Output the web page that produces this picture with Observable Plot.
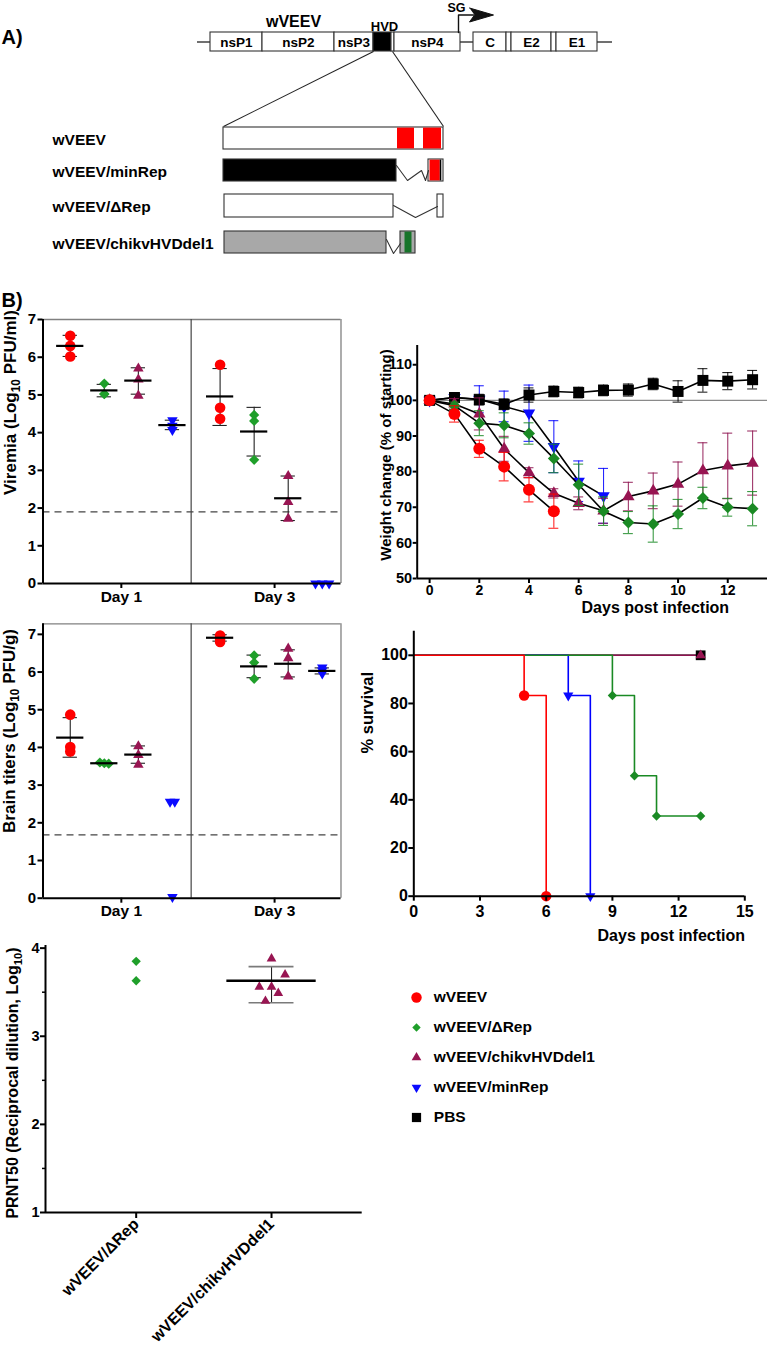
<!DOCTYPE html>
<html><head><meta charset="utf-8">
<script src="https://cdn.jsdelivr.net/npm/d3@7"></script>
<script src="https://cdn.jsdelivr.net/npm/@observablehq/plot@0.6"></script>
<style>
html,body{margin:0;padding:0;background:#fff;}
#fig{position:relative;width:767px;height:1346px;overflow:hidden;background:#fff;}
#fig svg{position:absolute;overflow:visible;max-width:none;}
</style></head>
<body><div id="fig"></div>
<script>
// ================= DATA =================
const groups = ["wVEEV", "wVEEV/ΔRep", "wVEEV/chikvHVDdel1", "wVEEV/minRep", "PBS"];
const groupColors = ["#ff0000", "#1f9f2a", "#981552", "#0a0aff", "#000000"];
const lineColors = ["#ff0000", "#1a8a24", "#8e1450", "#0000ff", "#000000"];
const days = ["Day 1", "Day 3"];

// Panel A schematic (map units)
const genomeLabels = ["nsP1", "nsP2", "nsP3", "", "", "nsP4", "C", "", "E2", "", "E1"];
const genomeStart  = [210, 262, 334, 373, 391, 394, 473, 506, 511, 551, 556];
const genomeEnd    = [262, 334, 373, 391, 394, 460, 506, 511, 551, 556, 597];
const genomeFill   = ["white", "white", "white", "black", "white", "white", "white", "white", "white", "white", "white"];
const genomeLinkStart = [197, 460, 597];
const genomeLinkEnd   = [210, 473, 612];
const constructNames = ["wVEEV", "wVEEV/minRep", "wVEEV/ΔRep", "wVEEV/chikvHVDdel1"];
const rowTop    = [127, 159, 194, 231];
const rowBottom = [149, 181, 217, 253];
const blockStart = [223, 223, 224, 224];
const blockEnd   = [443, 396, 393, 386];
const blockFill  = ["white", "black", "white", "#a8a8a8"];
const tailRow   = [1, 2, 3];
const tailStart = [428, 437, 400];
const tailEnd   = [443, 443, 415];
const tailFill  = ["white", "white", "#a8a8a8"];
const insertRow   = [0, 0, 1, 1, 3];
const insertStart = [397, 423, 429.5, 439.8, 404.5];
const insertEnd   = [414, 441, 439.8, 441.3, 411.5];
const insertFill  = ["#ff0000", "#ff0000", "#ff0000", "black", "#17742a"];
const zigRow = [1, 1, 1, 1, 1, 2, 2, 2, 3, 3, 3];
const zigX   = [396, 407, 421, 425, 428, 393, 415, 437, 386, 393, 400];
const zigY   = [165, 180, 170, 180, 170, 205, 217, 206, 239, 253, 243];
const zoomFromX = [373, 392], zoomToX = [223, 443];
const sgStemX = [458, 458, 473], sgStemY = [32, 14.5, 14.5];
const sgHeadX = [469, 493, 469, 474], sgHeadY = [7.5, 14.5, 21.5, 14.5];
const schemeTitles = ["wVEEV", "HVD", "SG"];
const schemeTitleX = [293, 384, 456];
const schemeTitleY = [21, 26, 7];

// Viremia (Log10 PFU/ml); group order wVEEV, ΔRep, chikvHVDdel1, minRep
const viremiaDay1 = [[6.57, 6.30, 6.02], [5.30, 5.03, 5.02], [5.70, 5.41, 4.98], [4.33, 4.18, 4.07]];
const viremiaDay3 = [[5.80, 4.66, 4.37], [4.47, 4.31, 3.28], [2.85, 2.16, 1.72], [0, 0, 0]];
const viremiaJitterDay3 = [[0, 0, 0], [0, 0, 0], [0, 0, 0], [-0.2, 0, 0.2]];
const viremiaMean = [[6.30, 5.12, 5.38, 4.20], [4.96, 4.03, 2.26, null]];
const viremiaLow  = [[6.02, 4.95, 5.02, 4.08], [4.19, 3.38, 1.67, null]];
const viremiaHigh = [[6.58, 5.28, 5.72, 4.33], [5.70, 4.67, 2.85, null]];
const viremiaLimit = 1.9;

// Brain titers (Log10 PFU/g)
const brainDay1 = [[4.87, 4.01, 3.89], [3.60, 3.57, 3.58], [4.03, 3.80, 3.54], [2.56, 2.56, 0.03]];
const brainDay3 = [[6.97, 6.88, 6.80], [6.44, 6.25, 5.82], [6.62, 6.37, 5.88], [6.12, 6.04, 5.96]];
const brainJitterDay1 = [[0, 0, 0], [-0.13, 0.13, 0], [0, 0, 0], [-0.07, 0.07, 0]];
const brainMean = [[4.26, 3.58, 3.81, null], [6.91, 6.15, 6.22, 6.03]];
const brainLow  = [[3.74, 3.56, 3.58, null], [6.82, 5.85, 5.87, 5.95]];
const brainHigh = [[4.79, 3.60, 4.04, null], [6.99, 6.45, 6.59, 6.11]];
const brainLimit = 1.68;

// Weight change (% of starting)
const weightDays = [0, 1, 2, 3, 4, 5, 6, 7, 8, 9, 10, 11, 12, 13];
const weightWVEEV      = [100, 96.2, 86.4, 81.4, 74.9, 68.9];
const weightErrWVEEV   = [0.5, 2.3, 2.4, 4.0, 3.4, 4.8];
const weightDeltaRep    = [100, 98.5, 93.6, 93.0, 90.7, 83.7, 76.3, 68.9, 65.7, 65.3, 68.1, 72.6, 70.0, 69.6];
const weightErrDeltaRep = [0.5, 1.0, 3.5, 3.5, 3.0, 4.0, 5.8, 4.0, 3.1, 5.1, 4.1, 3.0, 2.5, 4.8];
const weightChikv       = [100, 99.0, 96.2, 86.4, 79.7, 73.9, 71.1, 69.0, 73.0, 74.6, 76.5, 80.3, 81.6, 82.4];
const weightErrChikv    = [0.5, 1.5, 4.5, 3.5, 1.4, 1.3, 1.8, 3.5, 4.0, 5.0, 6.2, 7.8, 9.2, 9.0];
const weightMinRep      = [100, 100.8, 100.3, 98.3, 96.4, 87.0, 77.3, 73.2];
const weightErrMinRep   = [0.5, 1.0, 3.8, 4.3, 7.9, 7.3, 5.7, 7.7];
const weightPBS         = [100, 100.8, 100.2, 98.9, 101.5, 102.5, 102.2, 102.8, 102.9, 104.6, 102.5, 105.6, 105.4, 105.8];
const weightErrPBS      = [0.5, 1.0, 1.5, 1.5, 2.0, 1.5, 1.5, 1.5, 1.7, 1.6, 3.0, 3.3, 2.4, 2.6];

// Survival (%)
const survDaysWVEEV = [0, 5, 6],               survPctWVEEV = [100, 83.3, 0];
const survDaysDeltaRep = [0, 9, 10, 11, 13],   survPctDeltaRep = [100, 83.3, 50, 33.3, 33.3];
const survDaysChikv = [0, 13],                 survPctChikv = [100, 100];
const survDaysMinRep = [0, 7, 8],              survPctMinRep = [100, 83.3, 0];
const survDaysPBS = [0, 13],                   survPctPBS = [100, 100];

// PRNT50
const prntGroups = ["wVEEV/ΔRep", "wVEEV/chikvHVDdel1"];
const prntDeltaRep = [3.85, 3.63];
const prntDeltaRepJitter = [0, 0];
const prntChikv = [3.88, 3.70, 3.56, 3.56, 3.49, 3.40];
const prntChikvJitter = [0, 0.1, -0.09, 0, 0.05, -0.045];
const prntMean = [null, 3.63], prntLow = [null, 3.38], prntHigh = [null, 3.79];

// ================= HELPERS =================
const FONT = '"Liberation Sans", Arial, Helvetica, sans-serif';
const fig = document.getElementById("fig");
const intFmt = (d) => String(d);
function place(svg, left, top) {
  svg.style.left = left + "px";
  svg.style.top = top + "px";
  fig.appendChild(svg);
  subscriptify(svg);
  return svg;
}
function baseStyle(size) {
  return {fontFamily: FONT, fontSize: size + "px", fontWeight: "bold", background: "transparent", overflow: "visible", color: "#000"};
}
function subscriptify(svg) {
  d3.select(svg).selectAll("text").each(function () {
    const t = this.textContent;
    if (t.includes("Log10") && this.childElementCount === 0) {
      const parts = t.split("Log10");
      const s = d3.select(this);
      s.text(null);
      s.append("tspan").text(parts[0] + "Log");
      s.append("tspan").attr("dy", 4).attr("font-size", "70%").text("10");
      s.append("tspan").attr("dy", -4).text(parts[1]);
    }
  });
}
const triDown = {draw(ctx, size) {
  const s3 = Math.sqrt(3), y = -Math.sqrt(size / (s3 * 3));
  ctx.moveTo(0, -y * 2); ctx.lineTo(-s3 * y, y); ctx.lineTo(s3 * y, y); ctx.closePath();
}};
const SYM = ["circle", "diamond2", "triangle", triDown, "square"];

// ================= PANEL A =================
{
  const gi = genomeStart.map((_, i) => i);
  const ri = constructNames.map((_, i) => i);
  const zig = zigX.map((x, i) => ({x, y: zigY[i], row: zigRow[i]}));
  const svg = Plot.plot({
    width: 767, height: 312, margin: 0,
    x: {domain: [0, 767], range: [0, 767], axis: null},
    y: {domain: [0, 312], range: [0, 312], axis: null},
    color: {type: "identity"},
    style: baseStyle(13),
    marks: [
      Plot.ruleY(genomeLinkStart, {y: () => 41.5, x1: (d) => d, x2: (d, i) => genomeLinkEnd[i], stroke: "#222", strokeWidth: 1.3}),
      Plot.rect(gi, {x1: (i) => genomeStart[i], x2: (i) => genomeEnd[i], y1: () => 32, y2: () => 51, fill: (i) => genomeFill[i], stroke: "#333", strokeWidth: 1.1}),
      Plot.text(gi.filter((i) => genomeLabels[i]), {x: (i) => (genomeStart[i] + genomeEnd[i]) / 2, y: () => 42, text: (i) => genomeLabels[i], fontSize: 13.5}),
      Plot.text([0], {x: () => schemeTitleX[0], y: () => schemeTitleY[0], text: () => schemeTitles[0], fontSize: 16}),
      Plot.text([1], {x: () => schemeTitleX[1], y: () => schemeTitleY[1], text: () => schemeTitles[1], fontSize: 13}),
      Plot.text([2], {x: () => schemeTitleX[2], y: () => schemeTitleY[2], text: () => schemeTitles[2], fontSize: 12.5}),
      Plot.line(sgStemX.map((x, i) => ({x, y: sgStemY[i]})), {x: "x", y: "y", stroke: "#111", strokeWidth: 1.4}),
      Plot.line(sgHeadX.map((x, i) => ({x, y: sgHeadY[i]})), {x: "x", y: "y", fill: "#111", stroke: "#111", strokeWidth: 1}),
      Plot.link(zoomFromX, {x1: (d) => d, y1: () => 51, x2: (d, i) => zoomToX[i], y2: () => 126, stroke: "#222", strokeWidth: 1.1}),
      Plot.rect(ri, {x1: (i) => blockStart[i], x2: (i) => blockEnd[i], y1: (i) => rowTop[i], y2: (i) => rowBottom[i], fill: (i) => blockFill[i], stroke: "#333", strokeWidth: 1.1}),
      Plot.rect(tailRow, {x1: (r, i) => tailStart[i], x2: (r, i) => tailEnd[i], y1: (r) => rowTop[r], y2: (r) => rowBottom[r], fill: (r, i) => tailFill[i], stroke: "#333", strokeWidth: 1.1}),
      Plot.rect(insertRow, {x1: (r, i) => insertStart[i], x2: (r, i) => insertEnd[i], y1: (r) => rowTop[r] + 0.6, y2: (r) => rowBottom[r] - 0.6, fill: (r, i) => insertFill[i]}),
      Plot.line(zig, {x: "x", y: "y", z: "row", stroke: "#333", strokeWidth: 1.1}),
      Plot.text(ri, {x: () => 52, y: (i) => (rowTop[i] + rowBottom[i]) / 2 + 1.5, text: (i) => constructNames[i], textAnchor: "start", fontSize: 15.5}),
      Plot.text(["A)", "B)"], {x: () => 1, y: (d, i) => [37.5, 300][i], text: (d) => d, textAnchor: "start", fontSize: 20})
    ]
  });
  place(svg, 0, 0);
}

// ================= SCATTER PANELS (viremia, brain) =================
const dayGap = 4.4, xMin = -0.8, xMax = 7.95, divider = 3.55;
const dayTicks = [1.5, 6.0];
function xSlot(d, g, j) { return d * dayGap + g + (j || 0); }
function dotRows(dayArrays, jitterByDay) {
  const rows = [];
  dayArrays.forEach((perGroup, d) => perGroup.forEach((vals, g) => vals.forEach((v, k) => {
    const j = jitterByDay[d] ? jitterByDay[d][g][k] : 0;
    rows.push({x: xSlot(d, g, j), y: v, g});
  })));
  return rows;
}
function statRows(mean, low, high) {
  const rows = [];
  mean.forEach((perGroup, d) => perGroup.forEach((m, g) => {
    if (m != null) rows.push({x: xSlot(d, g), mean: m, lo: low[d][g], hi: high[d][g]});
  }));
  return rows;
}
const scatterR = [5.3, 4.6, 3.9, 3.9];
function scatterPanel(o) {
  const dots = o.dots, stats = o.stats;
  return Plot.plot({
    width: 345, height: o.height, marginLeft: 42.5, marginRight: 4.5, marginTop: o.marginTop, marginBottom: o.marginBottom,
    x: {domain: [xMin, xMax]}, y: {domain: o.domainY},
    style: baseStyle(15),
    marks: [
      Plot.ruleY([o.domainY[1]], {stroke: "#808080", strokeWidth: 1.3}),
      Plot.ruleX([xMax], {stroke: "#808080", strokeWidth: 1.3}),
      Plot.ruleX([divider], {stroke: "#444", strokeWidth: 1.2}),
      Plot.ruleY([o.limit], {stroke: "#444", strokeDasharray: "7,5", strokeWidth: 1.1}),
      Plot.ruleX(stats, {x: "x", y1: "lo", y2: "hi", stroke: "#222", strokeWidth: 1.1}),
      Plot.ruleY(stats, {y: "lo", x1: (d) => d.x - 0.21, x2: (d) => d.x + 0.21, stroke: "#222", strokeWidth: 1.1}),
      Plot.ruleY(stats, {y: "hi", x1: (d) => d.x - 0.21, x2: (d) => d.x + 0.21, stroke: "#222", strokeWidth: 1.1}),
      ...[0, 1, 2, 3].map((g) => Plot.dot(dots.filter((r) => r.g === g), {x: "x", y: "y", symbol: SYM[g], fill: groupColors[g], r: scatterR[g]})),
      Plot.ruleY(stats, {y: "mean", x1: (d) => d.x - 0.4, x2: (d) => d.x + 0.4, stroke: "#000", strokeWidth: 2.2}),
      Plot.ruleX([xMin], {stroke: "#000", strokeWidth: 2}),
      Plot.ruleY([0], {stroke: "#000", strokeWidth: 2}),
      Plot.axisY({ticks: o.ticksY, tickFormat: intFmt, tickSize: 5, tickPadding: 2, strokeWidth: 2, label: null, fontSize: 15}),
      Plot.axisX({ticks: dayTicks, tickFormat: (d) => days[dayTicks.indexOf(d)], tickSize: 5, tickPadding: 2, strokeWidth: 2, label: null, fontSize: 15.5}),
      Plot.text([o.label], {frameAnchor: "left", textAnchor: "middle", rotate: -90, dx: o.labelDx, dy: o.labelDy, fontSize: 17})
    ]
  });
}
place(scatterPanel({
  dots: dotRows([viremiaDay1, viremiaDay3], [null, viremiaJitterDay3]),
  stats: statRows(viremiaMean, viremiaLow, viremiaHigh),
  domainY: [0, 7], ticksY: [0, 1, 2, 3, 4, 5, 6, 7], limit: viremiaLimit,
  height: 310, marginTop: 19, marginBottom: 27,
  label: "Viremia (Log10 PFU/ml)", labelDx: -32, labelDy: -49
}), 0, 300);
place(scatterPanel({
  dots: dotRows([brainDay1, brainDay3], [brainJitterDay1, null]),
  stats: statRows(brainMean, brainLow, brainHigh),
  domainY: [0, 7.28], ticksY: [0, 1, 2, 3, 4, 5, 6, 7], limit: brainLimit,
  height: 314.7, marginTop: 13.3, marginBottom: 27,
  label: "Brain titers (Log10 PFU/g)", labelDx: -33, labelDy: -30
}), 0, 610);

// ================= WEIGHT =================
{
  const series = [
    {g: 3, mean: weightMinRep, err: weightErrMinRep},
    {g: 4, mean: weightPBS, err: weightErrPBS},
    {g: 2, mean: weightChikv, err: weightErrChikv},
    {g: 1, mean: weightDeltaRep, err: weightErrDeltaRep},
    {g: 0, mean: weightWVEEV, err: weightErrWVEEV}
  ];
  const wR = [6, 5.4, 4.6, 4.6, 6.2];
  const marks = [
    Plot.ruleY([100], {x1: 0, x2: 13.6, stroke: "#8a8a8a", strokeWidth: 1.2})
  ];
  for (const s of series) {
    const rows = s.mean.map((m, i) => ({x: weightDays[i], y: m, lo: m - s.err[i], hi: m + s.err[i]}));
    marks.push(
      Plot.ruleX(rows, {x: "x", y1: "lo", y2: "hi", stroke: lineColors[s.g], strokeWidth: 1.1, strokeOpacity: 0.85}),
      Plot.ruleY(rows, {y: "lo", x1: (d) => d.x - 0.2, x2: (d) => d.x + 0.2, stroke: lineColors[s.g], strokeWidth: 1.1, strokeOpacity: 0.85}),
      Plot.ruleY(rows, {y: "hi", x1: (d) => d.x - 0.2, x2: (d) => d.x + 0.2, stroke: lineColors[s.g], strokeWidth: 1.1, strokeOpacity: 0.85}),
      Plot.line(rows, {x: "x", y: "y", stroke: "#000", strokeWidth: 1.6}),
      Plot.dot(rows, {x: "x", y: "y", symbol: SYM[s.g], fill: s.g === 1 ? lineColors[1] : groupColors[s.g], r: wR[s.g]})
    );
  }
  marks.push(
    Plot.ruleX([-0.5], {y1: 50, y2: 115.4, stroke: "#000", strokeWidth: 2}),
    Plot.ruleY([50], {stroke: "#000", strokeWidth: 2}),
    Plot.axisY({ticks: [50, 60, 70, 80, 90, 100, 110], tickFormat: intFmt, tickSize: 4, tickPadding: 1, strokeWidth: 2, label: null, fontSize: 14.5}),
    Plot.axisX({ticks: [0, 2, 4, 6, 8, 10, 12], tickFormat: intFmt, tickSize: 5, tickPadding: 2, strokeWidth: 2, label: null, fontSize: 14}),
    Plot.text(["Weight change (% of starting)"], {frameAnchor: "left", textAnchor: "middle", rotate: -90, dx: -31, dy: -7, fontSize: 15}),
    Plot.text(["Days post infection"], {frameAnchor: "bottom", textAnchor: "middle", dx: 63, dy: 34.5, fontSize: 16})
  );
  const svg = Plot.plot({
    width: 395, height: 290, marginLeft: 44.7, marginRight: 0, marginTop: 15, marginBottom: 42,
    x: {domain: [-0.5, 13.6]}, y: {domain: [50, 115.4]},
    style: baseStyle(14.5),
    marks
  });
  place(svg, 372, 330);
}

// ================= SURVIVAL =================
{
  const series = [
    {g: 4, d: survDaysPBS, p: survPctPBS},
    {g: 2, d: survDaysChikv, p: survPctChikv},
    {g: 3, d: survDaysMinRep, p: survPctMinRep},
    {g: 1, d: survDaysDeltaRep, p: survPctDeltaRep},
    {g: 0, d: survDaysWVEEV, p: survPctWVEEV}
  ];
  const sR = [5.2, 4.2, 3.8, 3.8, 5.5];
  const lines = [], dots = [];
  for (const s of series) {
    const rows = s.d.map((x, i) => ({x, y: s.p[i]}));
    lines.push(Plot.line(rows, {x: "x", y: "y", curve: "step-after", stroke: lineColors[s.g], strokeWidth: 1.6}));
    dots.push(Plot.dot(rows.slice(1), {x: "x", y: "y", symbol: SYM[s.g], fill: s.g === 1 ? lineColors[1] : groupColors[s.g], r: sR[s.g]}));
  }
  const svg = Plot.plot({
    width: 395, height: 332.7, marginLeft: 41.3, marginRight: 22.7, marginTop: 10.7, marginBottom: 57,
    x: {domain: [0, 15]}, y: {domain: [0, 110]},
    style: baseStyle(16),
    marks: [
      ...lines, ...dots,
      Plot.ruleX([0], {y1: 0, y2: 110, stroke: "#000", strokeWidth: 2}),
      Plot.ruleY([0], {stroke: "#000", strokeWidth: 2}),
      Plot.axisY({ticks: [0, 20, 40, 60, 80, 100], tickFormat: intFmt, tickSize: 5, tickPadding: 1, strokeWidth: 2, label: null, fontSize: 16}),
      Plot.axisX({ticks: [0, 3, 6, 9, 12, 15], tickFormat: intFmt, tickSize: 5, tickPadding: 4, strokeWidth: 2, label: null, fontSize: 16}),
      Plot.text(["% survival"], {frameAnchor: "left", textAnchor: "middle", rotate: -90, dx: -46, dy: -51, fontSize: 16.5}),
      Plot.text(["Days post infection"], {frameAnchor: "bottom", textAnchor: "middle", dx: 92, dy: 45, fontSize: 16})
    ]
  });
  place(svg, 372, 620);
}

// ================= PRNT50 =================
{
  const dots = [
    ...prntDeltaRep.map((v, i) => ({x: 0 + prntDeltaRepJitter[i], y: v, g: 1})),
    ...prntChikv.map((v, i) => ({x: 1 + prntChikvJitter[i], y: v, g: 2}))
  ];
  const stats = prntMean.map((m, i) => ({x: i, mean: m, lo: prntLow[i], hi: prntHigh[i]})).filter((d) => d.mean != null);
  const svg = Plot.plot({
    width: 370, height: 416, marginLeft: 45, marginRight: 8.3, marginTop: 15, marginBottom: 134,
    x: {domain: [-0.67, 1.67]}, y: {domain: [1, 4.03]},
    style: baseStyle(14),
    marks: [
      Plot.ruleX(stats, {x: "x", y1: "lo", y2: "hi", stroke: "#222", strokeWidth: 1.1}),
      Plot.ruleY(stats, {y: "lo", x1: (d) => d.x - 0.166, x2: (d) => d.x + 0.166, stroke: "#7a7a7a", strokeWidth: 1.6}),
      Plot.ruleY(stats, {y: "hi", x1: (d) => d.x - 0.166, x2: (d) => d.x + 0.166, stroke: "#7a7a7a", strokeWidth: 1.6}),
      Plot.dot(dots.filter((d) => d.g === 1), {x: "x", y: "y", symbol: SYM[1], fill: groupColors[1], r: 4.2}),
      Plot.dot(dots.filter((d) => d.g === 2), {x: "x", y: "y", symbol: SYM[2], fill: groupColors[2], r: 3.6}),
      Plot.ruleY(stats, {y: "mean", x1: (d) => d.x - 0.33, x2: (d) => d.x + 0.33, stroke: "#000", strokeWidth: 2.6}),
      Plot.ruleX([-0.67], {y1: 1, y2: 4.03, stroke: "#000", strokeWidth: 2}),
      Plot.ruleY([1], {stroke: "#000", strokeWidth: 2}),
      Plot.axisY({ticks: [1, 2, 3, 4], tickFormat: intFmt, tickSize: 5, tickPadding: 1, strokeWidth: 2, label: null, fontSize: 14.5}),
      Plot.axisY({ticks: [1.5, 2.5, 3.5], tickSize: 3, tickFormat: () => "", strokeWidth: 1.5, label: null}),
      Plot.axisX({ticks: [0, 1], tickFormat: (d) => prntGroups[d], tickRotate: -45, tickSize: 6, tickPadding: 3, strokeWidth: 2, label: null, fontSize: 16}),
      Plot.text(["PRNT50 (Reciprocal dilution, Log10)"], {frameAnchor: "left", textAnchor: "middle", rotate: -90, dx: -32.5, dy: 4, fontSize: 16})
    ]
  });
  place(svg, 0, 930);
}

// ================= LEGEND =================
{
  const lR = [5.2, 3.8, 3.6, 3.6, 5.2];
  const svg = Plot.plot({
    width: 387, height: 150, marginLeft: 36, marginRight: 0, marginTop: 15.7, marginBottom: 12,
    y: {type: "point", domain: groups, padding: 0, axis: null},
    style: baseStyle(15.5),
    marks: [
      ...groups.map((g, i) => Plot.dot([g], {y: (d) => d, frameAnchor: "left", symbol: SYM[i], fill: groupColors[i], r: lR[i]})),
      Plot.text(groups, {y: (d) => d, frameAnchor: "left", dx: 17.3, textAnchor: "start", fontSize: 15.5})
    ]
  });
  place(svg, 380, 980);
}
</script></body></html>
